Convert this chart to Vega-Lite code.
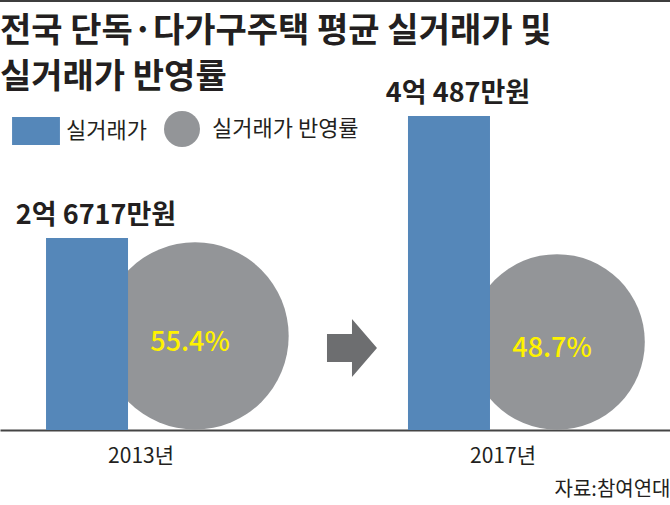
{
  "$schema": "https://vega.github.io/schema/vega-lite/v6.json",
  "width": 670,
  "height": 430,
  "autosize": {"type": "none"},
  "padding": {"left": 0, "top": 0, "right": 0, "bottom": 75},
  "background": "white",
  "title": {
    "text": ["전국 단독·다가구주택 평균 실거래가 및", "실거래가 반영률"],
    "anchor": "start",
    "frame": "group",
    "orient": "top",
    "font": "Noto Sans CJK KR",
    "fontSize": 34,
    "fontWeight": "bold",
    "color": "#231f20",
    "lineHeight": 46,
    "baseline": "bottom",
    "offset": -131
  },
  "datasets": {
    "main": [
      {"year": "2013", "series": "실거래가", "value": 26717, "label": "2억 6717만원"},
      {"year": "2013", "series": "실거래가 반영률", "value": 55.4, "label": "55.4%"},
      {"year": "2017", "series": "실거래가", "value": 40487, "label": "4억 487만원"},
      {"year": "2017", "series": "실거래가 반영률", "value": 48.7, "label": "48.7%"}
    ],
    "deco": [{"item": "arrow"}]
  },
  "resolve": {"scale": {"x": "independent", "y": "independent"}},
  "layer": [
    {
      "data": {"name": "main"},
      "resolve": {"scale": {"y": "independent"}},
      "encoding": {
        "x": {
          "field": "year",
          "type": "nominal",
          "scale": {"type": "band", "domain": ["2013", "2017"], "paddingInner": 0.475, "paddingOuter": 0.163, "align": 0.39},
          "axis": {
            "title": "자료:참여연대",
            "titleAnchor": "end",
            "titleFont": "Noto Sans CJK KR",
            "titleFontSize": 20,
            "titleFontWeight": "normal",
            "titleColor": "#231f20",
            "titlePadding": 13,
            "labelExpr": "datum.label + '년'",
            "labelFont": "Noto Sans CJK KR",
            "labelFontSize": 21,
            "labelColor": "#231f20",
            "labelPadding": 15,
            "labelAngle": 0,
            "ticks": false,
            "grid": false,
            "domainColor": "#444444",
            "domainWidth": 2
          }
        },
        "xOffset": {
          "field": "series",
          "type": "nominal",
          "scale": {"type": "band", "domain": ["실거래가", "실거래가 반영률"], "paddingInner": 0.241, "paddingOuter": 0}
        }
      },
      "layer": [
        {
          "transform": [{"filter": "datum.series === '실거래가 반영률'"}],
          "encoding": {
            "y": {"field": "value", "type": "quantitative", "scale": {"domain": [-49.6, 430.4], "nice": false, "zero": false}, "axis": null}
          },
          "layer": [
            {
              "mark": {"type": "point", "filled": true, "opacity": 1, "strokeWidth": 0},
              "encoding": {
                "size": {"field": "value", "type": "quantitative", "scale": {"domain": [0, 100], "range": [0, 63300], "zero": true}, "legend": null},
                "color": {
                  "field": "series", "type": "nominal",
                  "scale": {"domain": ["실거래가", "실거래가 반영률"], "range": ["#5587b9", "#939598"]},
                  "legend": {"orient": "none", "legendX": 18, "legendY": 111, "direction": "horizontal", "title": null}
                },
                "shape": {
                  "field": "series", "type": "nominal",
                  "scale": {"domain": ["실거래가", "실거래가 반영률"], "range": ["M-1.33,-0.78H1.33V0.78H-1.33Z", "circle"]},
                  "legend": {"orient": "none", "legendX": 18, "legendY": 111, "direction": "horizontal", "title": null}
                }
              }
            },
            {
              "mark": {"type": "text", "color": "#fff200", "fontSize": 27, "fontWeight": 500, "font": "Noto Sans CJK KR", "baseline": "middle", "align": "center", "dy": 7, "dx": -5},
              "encoding": {"text": {"field": "label", "type": "nominal"}}
            }
          ]
        },
        {
          "transform": [{"filter": "datum.series === '실거래가'"}],
          "encoding": {
            "y": {"field": "value", "type": "quantitative", "scale": {"domain": [5045, 53582], "nice": false, "zero": false}, "axis": null}
          },
          "layer": [
            {
              "mark": {"type": "bar"},
              "encoding": {
                "y2": {"datum": 5045},
                "color": {
                  "field": "series", "type": "nominal",
                  "scale": {"domain": ["실거래가", "실거래가 반영률"], "range": ["#5587b9", "#939598"]},
                  "legend": {"orient": "none", "legendX": 18, "legendY": 111, "direction": "horizontal", "title": null}
                }
              }
            },
            {
              "mark": {"type": "text", "color": "#231f20", "fontSize": 27, "fontWeight": "bold", "font": "Noto Sans CJK KR", "baseline": "alphabetic", "align": "center", "dy": -14, "dx": 9},
              "encoding": {"text": {"field": "label", "type": "nominal"}}
            }
          ]
        }
      ]
    },
    {
      "data": {"name": "deco"},
      "layer": [
        {
          "mark": {"type": "rule", "color": "#3d3d3d", "strokeWidth": 4},
          "encoding": {
            "y": {"datum": 100, "type": "quantitative", "scale": {"domain": [0, 100], "nice": false, "zero": false}, "axis": null}
          }
        },
        {
          "mark": {"type": "point", "filled": true, "opacity": 1, "strokeWidth": 0, "color": "#6d6e70", "size": 3364, "shape": "M-0.862,-0.483L0,-0.483L0,-1L0.862,0L0,1L0,0.483L-0.862,0.483Z"},
          "encoding": {
            "x": {"datum": 2015, "type": "quantitative", "scale": {"domain": [2011, 2018.614], "nice": false, "zero": false}, "axis": null},
            "y": {"datum": 19.07, "type": "quantitative", "scale": {"domain": [0, 100], "nice": false, "zero": false}, "axis": null}
          }
        }
      ]
    }
  ],
  "config": {
    "view": {"stroke": null},
    "font": "Noto Sans CJK KR",
    "legend": {
      "labelFont": "Noto Sans CJK KR",
      "labelFontSize": 22,
      "labelColor": "#231f20",
      "symbolSize": 1296,
      "symbolStrokeWidth": 0,
      "symbolOpacity": 1,
      "labelOffset": 12,
      "columnPadding": 17,
      "padding": 0
    }
  }
}
